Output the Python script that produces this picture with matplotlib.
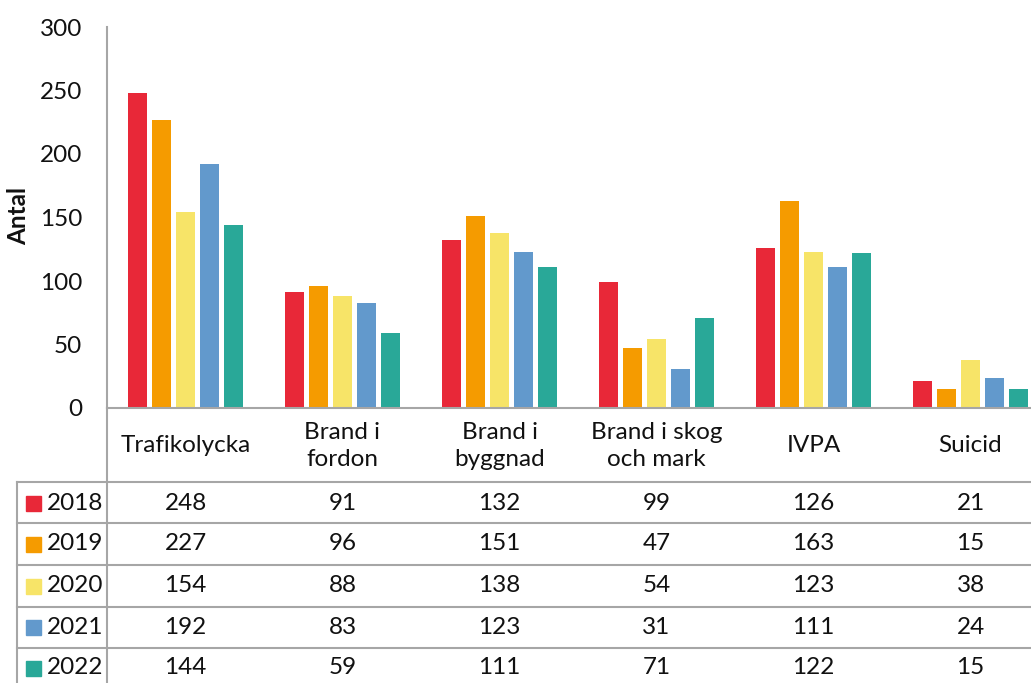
import matplotlib
matplotlib.use("Agg")
import matplotlib.pyplot as plt
import matplotlib.transforms as mtransforms
from matplotlib.lines import Line2D
from matplotlib.patches import Rectangle
import numpy as np

categories = ["Trafikolycka", "Brand i\nfordon", "Brand i\nbyggnad", "Brand i skog\noch mark", "IVPA", "Suicid"]
years = ["2018", "2019", "2020", "2021", "2022"]
v2018 = [248, 91, 132, 99, 126, 21]
v2019 = [227, 96, 151, 47, 163, 15]
v2020 = [154, 88, 138, 54, 123, 38]
v2021 = [192, 83, 123, 31, 111, 24]
v2022 = [144, 59, 111, 71, 122, 15]
series = [v2018, v2019, v2020, v2021, v2022]
colors = ["#E82838", "#F59B00", "#F7E468", "#6299CC", "#29A898"]
yticks = [0, 50, 100, 150, 200, 250, 300]

plt.rcParams['font.family'] = ['Lato', 'DejaVu Sans']
W, H = 1031, 683
fig = plt.figure(figsize=(W / 100, H / 100), dpi=100)
FS = 17.5
TXT = "#111111"

def fx(px):
    return px / W

def fy(py):
    return 1 - py / H

left, right, top, bottom = 107, 1049, 27, 408
ax = fig.add_axes([fx(left), fy(bottom), fx(right) - fx(left), fy(top) - fy(bottom)])

x = np.arange(len(categories))
step = 0.153
bw = 0.122
for i, (vals, c) in enumerate(zip(series, colors)):
    ax.bar(x + (i - 2) * step, vals, width=bw, color=c, zorder=2)

ax.set_xlim(-0.5, len(categories) - 0.5)
ax.set_ylim(0, 300)
ax.set_yticks(yticks)
ax.set_yticklabels([str(t) for t in yticks], fontsize=FS, color=TXT)
ax.tick_params(axis='y', length=0, pad=18)
ax.set_xticks([])
for s in ["top", "right"]:
    ax.spines[s].set_visible(False)
grey = "#A6A6A6"
ax.spines["left"].set_color(grey)
ax.spines["bottom"].set_color(grey)
ax.spines["left"].set_linewidth(1.5)
ax.spines["bottom"].set_linewidth(1.5)

fig.text(fx(19), fy(216), "Antal", rotation=90, fontsize=FS, fontweight="bold",
         ha="center", va="center", color=TXT)

trans = mtransforms.blended_transform_factory(ax.transData, fig.transFigure)

# category labels
for xi, cat in zip(x, categories):
    fig.text(xi, fy(446), cat, transform=trans, ha="center", va="center",
             fontsize=FS, linespacing=1.3, color=TXT)

# table lines
row_lines = [482, 523, 565, 607, 648]
for ry in row_lines:
    fig.add_artist(Line2D([fx(17), 1.0], [fy(ry), fy(ry)], color=grey, lw=1.5))
fig.add_artist(Line2D([fx(107), fx(107)], [fy(408), 0], color=grey, lw=1.5))
fig.add_artist(Line2D([fx(17), fx(17)], [fy(482), 0], color=grey, lw=1.5))

row_centers = [503, 544, 586, 627, 668]
for yr, vals, c, rc in zip(years, series, colors, row_centers):
    fig.add_artist(Rectangle((fx(26), fy(rc + 7.5)), fx(15), 15 / H, color=c,
                             transform=fig.transFigure))
    fig.text(fx(47), fy(rc), yr, ha="left", va="center", fontsize=FS, color=TXT)
    for xi, v in zip(x, vals):
        fig.text(xi, fy(rc), str(v), transform=trans, ha="center", va="center",
                 fontsize=FS, color=TXT)

fig.savefig("out.png", dpi=100)
